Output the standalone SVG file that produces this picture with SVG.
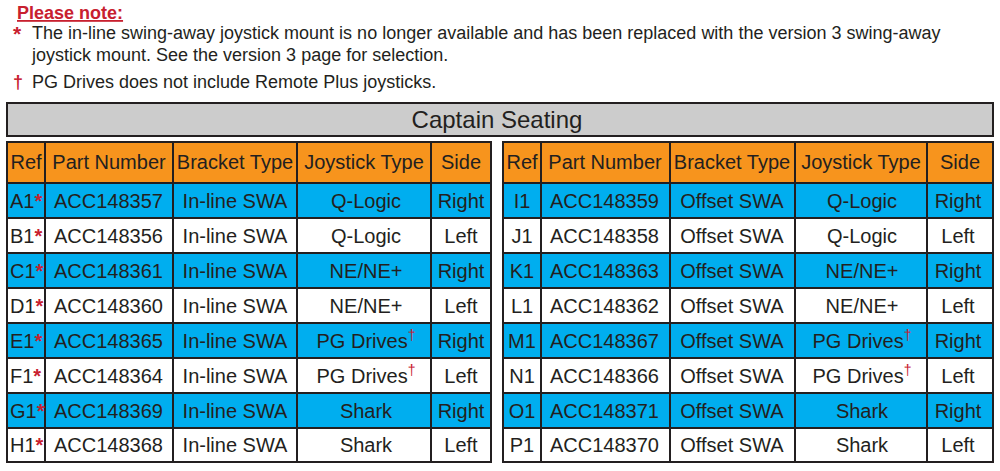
<svg xmlns="http://www.w3.org/2000/svg" width="1000" height="471" viewBox="0 0 1000 471">
<style>
text{font-family:"Liberation Sans",Arial,sans-serif;fill:#231f20}
.n{font-size:18px}
.t{font-size:20px}
.c{text-anchor:middle}
.r{fill:#c8202f}
.h{fill:#f7941d;stroke:#231f20;stroke-width:2}
.b{fill:#00aeef;stroke:#231f20;stroke-width:2}
.w{fill:#fff;stroke:#231f20;stroke-width:2}
</style>
<rect width="1000" height="471" fill="#fff"/>
<g id="note">
<text x="17" y="19" class="n r" style="font-weight:bold;text-decoration:underline">Please note:</text>
<text x="13" y="41" class="n r" style="font-weight:bold;font-size:21px">*</text>
<text x="32" y="39" class="n">The in-line swing-away joystick mount is no longer available and has been replaced with the version 3 swing-away</text>
<text x="32" y="61" class="n">joystick mount. See the version 3 page for selection.</text>
<text x="13" y="88" class="n r" style="font-weight:bold">†</text>
<text x="32" y="88" class="n">PG Drives does not include Remote Plus joysticks.</text>
</g>
<g id="title">
<rect x="7" y="103" width="986" height="33" fill="#cccccc" stroke="#231f20" stroke-width="2"/>
<text x="497" y="128" class="c" style="font-size:24px">Captain Seating</text>
</g>
<g id="left-table">
<rect x="7" y="142" width="38" height="41" class="h"/><rect x="45" y="142" width="128" height="41" class="h"/><rect x="173" y="142" width="124" height="41" class="h"/><rect x="297" y="142" width="134" height="41" class="h"/><rect x="431" y="142" width="60" height="41" class="h"/>
<text x="26" y="169" class="t c">Ref</text><text x="109" y="169" class="t c">Part Number</text><text x="235" y="169" class="t c">Bracket Type</text><text x="364" y="169" class="t c">Joystick Type</text><text x="461" y="169" class="t c">Side</text>
</g>
<g id="right-table">
<rect x="503" y="142" width="38" height="41" class="h"/><rect x="541" y="142" width="129" height="41" class="h"/><rect x="670" y="142" width="125" height="41" class="h"/><rect x="795" y="142" width="132" height="41" class="h"/><rect x="927" y="142" width="66" height="41" class="h"/>
<text x="522" y="169" class="t c">Ref</text><text x="605" y="169" class="t c">Part Number</text><text x="732" y="169" class="t c">Bracket Type</text><text x="861" y="169" class="t c">Joystick Type</text><text x="960" y="169" class="t c">Side</text>
</g>
<g id="rows-left">
<rect x="7" y="183" width="484" height="35" class="b"/><rect x="7" y="218" width="484" height="35" class="w"/><rect x="7" y="253" width="484" height="35" class="b"/><rect x="7" y="288" width="484" height="35" class="w"/><rect x="7" y="323" width="484" height="35" class="b"/><rect x="7" y="358" width="484" height="35" class="w"/><rect x="7" y="393" width="484" height="35" class="b"/><rect x="7" y="428" width="484" height="34" class="w"/>
<path d="M45 183V462M173 183V462M297 183V462M431 183V462" stroke="#231f20" stroke-width="2"/>
<g class="t">
<text x="10" y="208">A1<tspan class="r" font-weight="bold">*</tspan></text><text x="10" y="243">B1<tspan class="r" font-weight="bold">*</tspan></text><text x="10" y="278">C1<tspan class="r" font-weight="bold">*</tspan></text><text x="10" y="313">D1<tspan class="r" font-weight="bold">*</tspan></text><text x="10" y="348">E1<tspan class="r" font-weight="bold">*</tspan></text><text x="10" y="383">F1<tspan class="r" font-weight="bold">*</tspan></text><text x="10" y="418">G1<tspan class="r" font-weight="bold">*</tspan></text><text x="10" y="452">H1<tspan class="r" font-weight="bold">*</tspan></text>
</g>
<g class="t">
<text x="54" y="208">ACC148357</text><text x="54" y="243">ACC148356</text><text x="54" y="278">ACC148361</text><text x="54" y="313">ACC148360</text><text x="54" y="348">ACC148365</text><text x="54" y="383">ACC148364</text><text x="54" y="418">ACC148369</text><text x="54" y="452">ACC148368</text>
</g>
<g class="t c">
<text x="235" y="208">In-line SWA</text><text x="235" y="243">In-line SWA</text><text x="235" y="278">In-line SWA</text><text x="235" y="313">In-line SWA</text><text x="235" y="348">In-line SWA</text><text x="235" y="383">In-line SWA</text><text x="235" y="418">In-line SWA</text><text x="235" y="452">In-line SWA</text>
<text x="366" y="208">Q-Logic</text><text x="366" y="243">Q-Logic</text><text x="366" y="278">NE/NE+</text><text x="366" y="313">NE/NE+</text><text x="366" y="348">PG Drives<tspan class="r" dy="-8" font-size="14">†</tspan></text><text x="366" y="383">PG Drives<tspan class="r" dy="-8" font-size="14">†</tspan></text><text x="366" y="418">Shark</text><text x="366" y="452">Shark</text>
<text x="461" y="208">Right</text><text x="461" y="243">Left</text><text x="461" y="278">Right</text><text x="461" y="313">Left</text><text x="461" y="348">Right</text><text x="461" y="383">Left</text><text x="461" y="418">Right</text><text x="461" y="452">Left</text>
</g>
</g>
<g id="rows-right">
<rect x="503" y="183" width="490" height="35" class="b"/><rect x="503" y="218" width="490" height="35" class="w"/><rect x="503" y="253" width="490" height="35" class="b"/><rect x="503" y="288" width="490" height="35" class="w"/><rect x="503" y="323" width="490" height="35" class="b"/><rect x="503" y="358" width="490" height="35" class="w"/><rect x="503" y="393" width="490" height="35" class="b"/><rect x="503" y="428" width="490" height="34" class="w"/>
<path d="M541 183V462M670 183V462M795 183V462M927 183V462" stroke="#231f20" stroke-width="2"/>
<g class="t c">
<text x="522" y="208">I1</text><text x="522" y="243">J1</text><text x="522" y="278">K1</text><text x="522" y="313">L1</text><text x="522" y="348">M1</text><text x="522" y="383">N1</text><text x="522" y="418">O1</text><text x="522" y="452">P1</text>
</g>
<g class="t">
<text x="550" y="208">ACC148359</text><text x="550" y="243">ACC148358</text><text x="550" y="278">ACC148363</text><text x="550" y="313">ACC148362</text><text x="550" y="348">ACC148367</text><text x="550" y="383">ACC148366</text><text x="550" y="418">ACC148371</text><text x="550" y="452">ACC148370</text>
</g>
<g class="t c">
<text x="732" y="208">Offset SWA</text><text x="732" y="243">Offset SWA</text><text x="732" y="278">Offset SWA</text><text x="732" y="313">Offset SWA</text><text x="732" y="348">Offset SWA</text><text x="732" y="383">Offset SWA</text><text x="732" y="418">Offset SWA</text><text x="732" y="452">Offset SWA</text>
<text x="862" y="208">Q-Logic</text><text x="862" y="243">Q-Logic</text><text x="862" y="278">NE/NE+</text><text x="862" y="313">NE/NE+</text><text x="862" y="348">PG Drives<tspan class="r" dy="-8" font-size="14">†</tspan></text><text x="862" y="383">PG Drives<tspan class="r" dy="-8" font-size="14">†</tspan></text><text x="862" y="418">Shark</text><text x="862" y="452">Shark</text>
<text x="958" y="208">Right</text><text x="958" y="243">Left</text><text x="958" y="278">Right</text><text x="958" y="313">Left</text><text x="958" y="348">Right</text><text x="958" y="383">Left</text><text x="958" y="418">Right</text><text x="958" y="452">Left</text>
</g>
</g>
</svg>
